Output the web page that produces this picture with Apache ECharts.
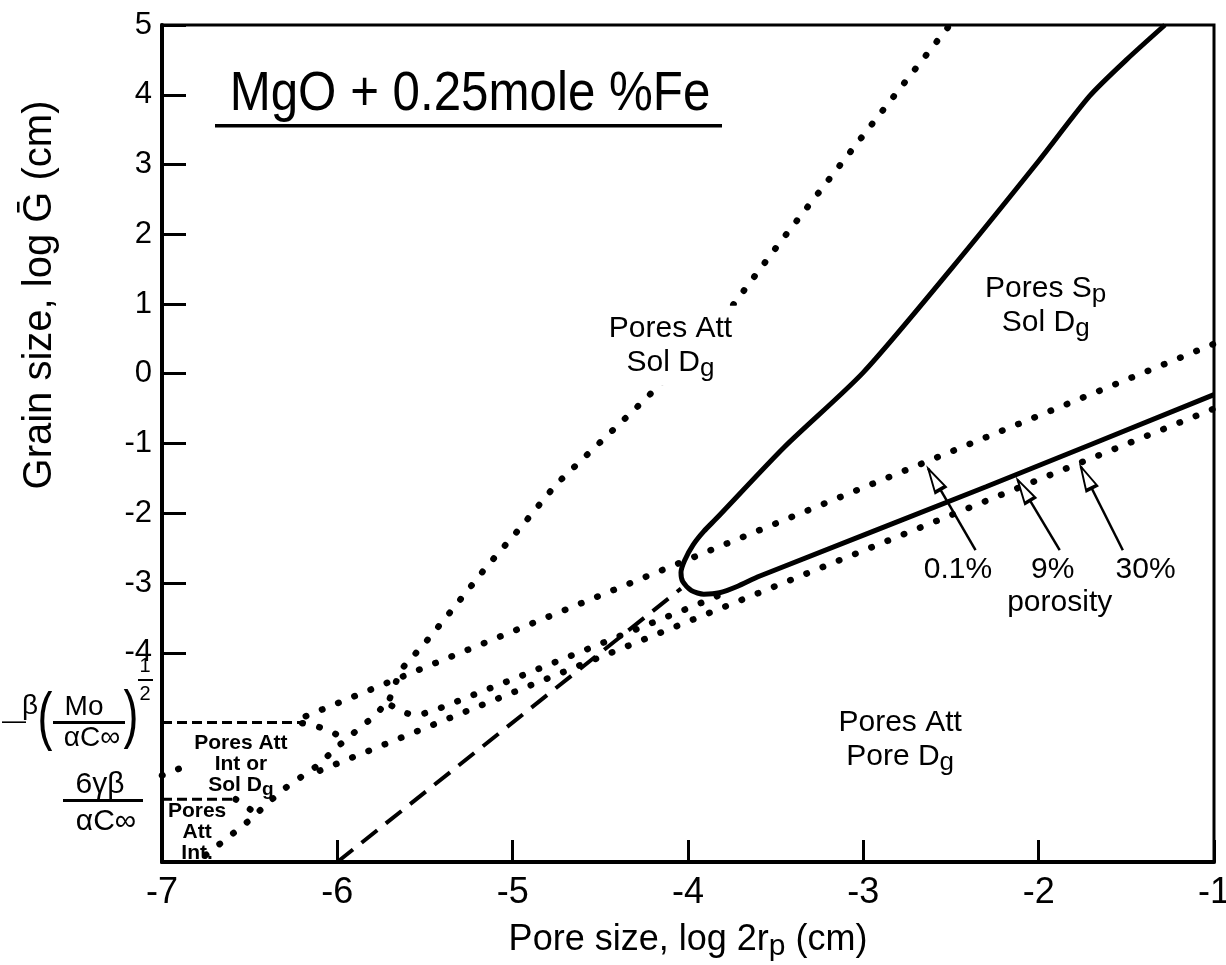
<!DOCTYPE html>
<html lang="en">
<head>
<meta charset="UTF-8">
<title>MgO + 0.25 mole % Fe</title>
<script src="https://cdn.jsdelivr.net/npm/echarts@6/dist/echarts.min.js"></script>
<style>html,body{margin:0;background:#fff}</style>
</head>
<body>
<div id="main" style="width:1226px;height:965px"></div>
<script>
// x: pore size log 2rp (cm), y: grain size log G (cm)
var xTicks = [-7, -6, -5, -4, -3, -2, -1];
var yTicks = [-4, -3, -2, -1, 0, 1, 2, 3, 4, 5];

// steep dotted boundary (pores attached / solute drag)
var steepLine = [[-5.70, -4.65], [-5.64, -4.25], [-5.51, -3.89], [-5.35, -3.40], [-5.15, -2.77],
    [-4.95, -2.19], [-4.75, -1.58], [-4.30, -0.50], [-3.87, 0.56], [-3.47, 1.90], [-3.00, 3.42], [-2.46, 5.15]];
// 0.1% porosity line (dotted), short piece at the left edge
var line01 = [[-6.18, -4.91], [-0.98, 0.45]];
var line01Left = [[-7.00, -5.76], [-6.85, -5.61]];
// 9% porosity, dotted part (becomes the solid boundary further right)
var line9 = [[-5.69, -4.76], [-5.64, -4.83], [-5.59, -4.88], [-5.53, -4.89], [-5.48, -4.85],
    [-5.41, -4.79], [-4.95, -4.33], [-4.35, -3.72], [-3.91, -3.27], [-3.75, -3.10]];
// 30% porosity (dotted)
var line30 = [[-6.10, -5.69], [-0.98, -0.48]];
// rising dotted line from the intrinsic corner to the steep line
var lineInt = [[-6.75, -6.90], [-6.51, -6.42], [-6.32, -5.98], [-6.12, -5.63], [-5.96, -5.26],
    [-5.78, -4.89], [-5.70, -4.65]];
// short dotted links from the dashed levels
var linkUpper = [[-6.20, -5.01], [-6.12, -5.05], [-6.06, -5.11], [-6.02, -5.15], [-5.98, -5.21], [-5.95, -5.28]];
var linkLower = [[-6.58, -6.10], [-6.51, -6.22], [-6.46, -6.32]];
// dashed lines
var dashHiLevel = [[-7.00, -5.00], [-6.21, -5.00]];
var dashLoLevel = [[-7.00, -6.10], [-6.60, -6.10]];
var dashDiag = [[-6.00, -7.00], [-4.04, -3.08]];
// solid boundary (pores separate / solute drag)
var solidCurve = [[-1.00, -0.30], [-2.30, -1.62], [-3.59, -2.90], [-3.72, -3.05], [-3.82, -3.14],
    [-3.91, -3.16], [-3.98, -3.11], [-4.03, -2.98], [-4.04, -2.85], [-4.02, -2.68], [-3.97, -2.45],
    [-3.91, -2.26], [-3.84, -2.08], [-3.45, -1.05], [-3.00, 0.02], [-2.50, 1.50], [-2.00, 3.05],
    [-1.71, 3.98], [-1.50, 4.50], [-1.28, 5.00]];
// porosity arrows
var arrowTails = [[-2.36, -2.53], [-1.88, -2.53], [-1.52, -2.53]];
var arrowTips = [[-2.63, -1.36], [-2.12, -1.52], [-1.76, -1.33]];

// text in the plot
var regionText = ['Pores Att\nSol D{s|g}', 'Pores S{s|p}\nSol D{s|g}', 'Pores Att\nPore D{s|g}',
    '0.1%', '9%', '30%', 'porosity'];
var regionPos = [[-4.10, 0.40], [-1.96, 0.97], [-2.79, -5.25], [-2.46, -2.81], [-1.92, -2.81],
    [-1.39, -2.81], [-1.88, -3.29]];
var smallText = ['Pores Att\nInt or\nSol D{s|g}', 'Pores\nAtt\nInt.'];
var smallPos = [[-6.55, -5.60], [-6.80, -6.57]];

var chart = echarts.init(document.getElementById('main'));
var font = 'Liberation Sans, Arial, sans-serif';

function dotted(data) {
    return {
        type: 'line', data: data, symbol: 'none', silent: true, z: 3,
        lineStyle: {color: '#000', width: 6.5, type: [0.5, 17], cap: 'round'}
    };
}
function dashed(data, dash, w) {
    return {
        type: 'line', data: data, symbol: 'none', silent: true, z: 3,
        lineStyle: {color: '#000', width: w, type: dash}
    };
}

var series = [
    dotted(steepLine), dotted(line01), dotted(line01Left), dotted(line9), dotted(line30),
    dotted(lineInt), dotted(linkUpper), dotted(linkLower),
    dashed(dashHiLevel, [10, 5], 3), dashed(dashLoLevel, [10, 5], 3), dashed(dashDiag, [20, 11], 4),
    {
        type: 'line', data: solidCurve, symbol: 'none', silent: true, z: 4, smooth: 0.25,
        lineStyle: {color: '#000', width: 5}
    }
];
arrowTails.forEach(function (t, i) {
    series.push({
        type: 'line', data: [t, arrowTips[i]], symbol: 'none', silent: true, z: 4,
        lineStyle: {color: '#000', width: 2.5}
    });
});
series.push({
    id: 'heads', type: 'scatter', data: [], symbol: 'triangle', symbolSize: [12, 24], z: 6, silent: true,
    itemStyle: {color: '#fff', borderColor: '#000', borderWidth: 2.5, opacity: 1}
});
series.push({
    type: 'scatter', symbolSize: 0, silent: true, z: 7,
    itemStyle: {opacity: 1},
    data: regionPos.map(function (p, i) {
        var lab = {formatter: regionText[i]};
        if (i === 0) { lab.backgroundColor = '#fff'; lab.padding = [6, 6]; }
        return {value: p, label: lab};
    }),
    label: {
        show: true, position: 'inside', color: '#000', fontFamily: font, fontSize: 30, lineHeight: 34,
        align: 'center', verticalAlign: 'middle',
        rich: {s: {fontFamily: font, fontSize: 26, color: '#000', padding: [12, 0, 0, 0]}}
    }
});
series.push({
    type: 'scatter', symbolSize: 0, silent: true, z: 7,
    itemStyle: {opacity: 1},
    data: smallPos.map(function (p, i) { return {value: p, label: {formatter: smallText[i]}}; }),
    label: {
        show: true, position: 'inside', color: '#000', fontFamily: font, fontSize: 21, fontWeight: 'bold',
        lineHeight: 21, align: 'center', verticalAlign: 'middle',
        rich: {s: {fontFamily: font, fontSize: 19, fontWeight: 'bold', color: '#000', padding: [8, 0, 0, 0]}}
    }
});

var option = {
    animation: false,
    backgroundColor: '#fff',
    grid: {
        left: 162, right: 12, top: 25, bottom: 103, show: true, borderColor: '#000', borderWidth: 3,
        outerBoundsMode: 'none'
    },
    xAxis: {
        type: 'value', min: -7, max: -1, interval: 1,
        axisLine: {onZero: false, lineStyle: {color: '#000', width: 4}},
        axisTick: {inside: true, length: 22, lineStyle: {color: '#000', width: 3}},
        axisLabel: {color: '#000', fontFamily: font, fontSize: 36, margin: 13},
        splitLine: {show: false},
        name: 'Pore size, log 2r{s|p} (cm)', nameLocation: 'middle', nameGap: 56,
        nameTextStyle: {
            color: '#000', fontFamily: font, fontSize: 36,
            rich: {s: {fontFamily: font, fontSize: 30, color: '#000', padding: [14, 0, 0, 0]}}
        }
    },
    yAxis: {
        type: 'value', min: -7, max: 5, interval: 1,
        axisLine: {onZero: false, lineStyle: {color: '#000', width: 4}},
        axisTick: {inside: true, length: 24, customValues: yTicks, lineStyle: {color: '#000', width: 3}},
        axisLabel: {
            color: '#000', fontFamily: font, fontSize: 31, margin: 10, customValues: yTicks,
            formatter: function (v) { return v < -4 ? '' : String(v); }
        },
        splitLine: {show: false}
    },
    graphic: [
        {
            type: 'text', x: 470, y: 95, scaleX: 0.88,
            style: {text: 'MgO + 0.25mole %Fe', font: '56px ' + font, fill: '#000',
                align: 'center', verticalAlign: 'middle'}
        },
        {type: 'rect', shape: {x: 215, y: 124, width: 507, height: 3.5}, style: {fill: '#000'}},
        // left labels for the two dashed levels
        {type: 'text', x: 14, y: 721, rotation: 0, style: {text: '\u2014', font: '24px ' + font, fill: '#000', align: 'center', verticalAlign: 'middle'}},
        {type: 'text', x: 30, y: 706, style: {text: 'β', font: '28px ' + font, fill: '#000', align: 'center', verticalAlign: 'middle'}},
        {type: 'text', x: 45, y: 720, scaleX: 0.7, style: {text: '(', font: '64px ' + font, fill: '#000', align: 'center', verticalAlign: 'middle'}},
        {type: 'text', x: 84, y: 707, style: {text: 'Mo', font: '28px ' + font, fill: '#000', align: 'center', verticalAlign: 'middle'}},
        {type: 'rect', shape: {x: 53, y: 721, width: 72, height: 3}, style: {fill: '#000'}},
        {type: 'text', x: 92, y: 738, style: {text: 'αC∞', font: '28px ' + font, fill: '#000', align: 'center', verticalAlign: 'middle'}},
        {type: 'text', x: 131, y: 718, scaleX: 0.7, style: {text: ')', font: '64px ' + font, fill: '#000', align: 'center', verticalAlign: 'middle'}},
        {type: 'text', x: 145, y: 666, style: {text: '1', font: '20px ' + font, fill: '#000', align: 'center', verticalAlign: 'middle'}},
        {type: 'rect', shape: {x: 138, y: 679, width: 15, height: 2}, style: {fill: '#000'}},
        {type: 'text', x: 145, y: 694, style: {text: '2', font: '20px ' + font, fill: '#000', align: 'center', verticalAlign: 'middle'}},
        {type: 'text', x: 100, y: 785, style: {text: '6γβ', font: '30px ' + font, fill: '#000', align: 'center', verticalAlign: 'middle'}},
        {type: 'rect', shape: {x: 63, y: 799, width: 80, height: 3}, style: {fill: '#000'}},
        {type: 'text', x: 106, y: 822, style: {text: 'αC∞', font: '30px ' + font, fill: '#000', align: 'center', verticalAlign: 'middle'}},
        {
            type: 'text', x: 40, y: 295, rotation: Math.PI / 2,
            style: {text: 'Grain size, log Ḡ (cm)', font: '40px ' + font, fill: '#000',
                align: 'center', verticalAlign: 'middle'}
        }
    ],
    series: series
};
chart.setOption(option);

// hollow arrowheads, rotated along each arrow
var heads = arrowTips.map(function (tip, i) {
    var a = chart.convertToPixel({gridIndex: 0}, arrowTails[i]);
    var b = chart.convertToPixel({gridIndex: 0}, tip);
    var dx = b[0] - a[0], dy = b[1] - a[1];
    var len = Math.sqrt(dx * dx + dy * dy);
    var c = [b[0] - dx / len * 12, b[1] - dy / len * 12];
    return {
        value: chart.convertFromPixel({gridIndex: 0}, c),
        symbolRotate: Math.atan2(-dy, dx) * 180 / Math.PI - 90
    };
});
chart.setOption({series: [{id: 'heads', data: heads}]});
</script>
</body>
</html>
